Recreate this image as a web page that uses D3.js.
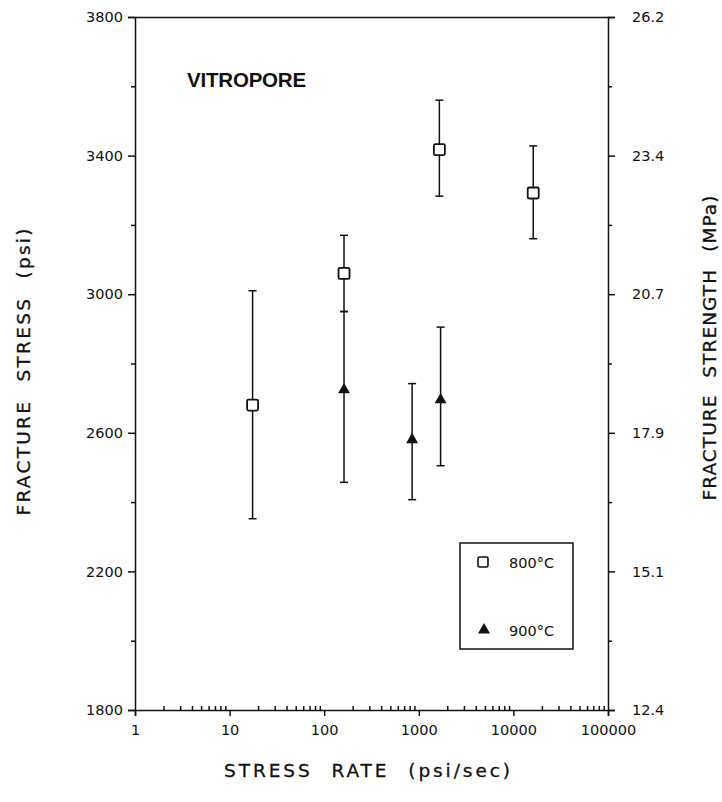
<!DOCTYPE html>
<html>
<head>
<meta charset="utf-8">
<script src="https://cdn.jsdelivr.net/npm/d3@7"></script>
<style>
  html, body { margin: 0; padding: 0; background: #fff; }
  svg { display: block; }
  .tick text { font-family: "DejaVu Sans", sans-serif; font-size: 14.5px; fill: #111; }
  .domain, .tick line { stroke: #111; stroke-width: 1.5px; }
</style>
</head>
<body>
<script>
// ---- data ----
const rates800  = [17.5, 162, 1650, 16200];
const stress800 = [2680, 3060, 3417, 3292];
const lo800     = [2352, 2950, 3283, 3160];
const hi800     = [3010, 3170, 3560, 3428];

const rates900  = [162, 850, 1700];
const stress900 = [2724, 2580, 2695];
const lo900     = [2457, 2407, 2505];
const hi900     = [2950, 2742, 2905];

const xTickValues = [1, 10, 100, 1000, 10000, 100000];
const xTickLabels = ["1", "10", "100", "1000", "10000", "100000"];
const yTickValues = [1800, 2200, 2600, 3000, 3400, 3800];
const yTickLabels = ["1800", "2200", "2600", "3000", "3400", "3800"];
const mpaLabels   = ["12.4", "15.1", "17.9", "20.7", "23.4", "26.2"];
const legendLabels = ["800°C", "900°C"];

const W = 722, H = 802;
const svg = d3.select("body").append("svg").attr("width", W).attr("height", H);

const x = d3.scaleLog().domain([1, 100000]).range([135, 608]);
const y = d3.scaleLinear().domain([1800, 3800]).range([710, 17]);

// minor ticks
const yMinor = d3.range(2000, 3800, 400);
const xMinor = [];
for (let d = 1; d < 100000; d *= 10) for (let k = 2; k <= 9; k++) xMinor.push(d * k);

// left axis
svg.append("g").attr("transform", "translate(135,0)")
  .call(d3.axisLeft(y).tickValues(yTickValues).tickSize(7).tickPadding(5)
    .tickFormat((d, i) => yTickLabels[i]));
svg.append("g").attr("transform", "translate(135,0)")
  .call(d3.axisLeft(y).tickValues(yMinor).tickSize(4).tickFormat(""))
  .select(".domain").remove();

// right axis
svg.append("g").attr("transform", "translate(608,0)")
  .call(d3.axisRight(y).tickValues(yTickValues).tickSize(7).tickPadding(17)
    .tickFormat((d, i) => mpaLabels[i]));
svg.append("g").attr("transform", "translate(608,0)")
  .call(d3.axisRight(y).tickValues(yMinor).tickSize(4).tickFormat(""))
  .select(".domain").remove();

// bottom axis
svg.append("g").attr("transform", "translate(0,710)")
  .call(d3.axisBottom(x).tickValues(xTickValues).tickSize(6).tickPadding(9)
    .tickFormat((d, i) => xTickLabels[i]));
svg.append("g").attr("transform", "translate(0,710)")
  .call(d3.axisBottom(x).tickValues(xMinor).tickSize(-4).tickFormat(""))
  .select(".domain").remove();

// top axis line
svg.append("g").attr("transform", "translate(0,17)")
  .call(d3.axisTop(x).tickValues([]).tickSizeOuter(0));

svg.selectAll(".domain").attr("fill", "none");

// error bars
function errorBars(rates, lo, hi) {
  const g = svg.append("g").attr("stroke", "#111").attr("stroke-width", 1.5);
  rates.forEach((r, i) => {
    const cx = x(r);
    g.append("line").attr("x1", cx).attr("x2", cx).attr("y1", y(lo[i])).attr("y2", y(hi[i]));
    g.append("line").attr("x1", cx - 4).attr("x2", cx + 4).attr("y1", y(lo[i])).attr("y2", y(lo[i]));
    g.append("line").attr("x1", cx - 4).attr("x2", cx + 4).attr("y1", y(hi[i])).attr("y2", y(hi[i]));
  });
}
errorBars(rates800, lo800, hi800);
errorBars(rates900, lo900, hi900);

// markers
const sq = 11;
svg.append("g").selectAll("rect").data(rates800).join("rect")
  .attr("x", (d) => x(d) - sq / 2)
  .attr("y", (d, i) => y(stress800[i]) - sq / 2)
  .attr("width", sq).attr("height", sq).attr("rx", 1.5)
  .attr("fill", "#fff").attr("stroke", "#111").attr("stroke-width", 1.8);

const tri = d3.symbol().type(d3.symbolTriangle).size(62);
svg.append("g").selectAll("path").data(rates900).join("path")
  .attr("d", tri)
  .attr("transform", (d, i) => `translate(${x(d)},${y(stress900[i])})`)
  .attr("fill", "#111");

// title
svg.append("text").attr("x", 187).attr("y", 87)
  .attr("font-family", "Liberation Sans, Arial, sans-serif")
  .attr("font-weight", "bold").attr("font-size", 20.5)
  .attr("letter-spacing", "-0.2px")
  .attr("fill", "#111").text("VITROPORE");

// legend
svg.append("rect").attr("x", 460).attr("y", 543).attr("width", 113).attr("height", 106)
  .attr("fill", "#fff").attr("stroke", "#111").attr("stroke-width", 1.5);
svg.append("rect").attr("x", 483 - 5).attr("y", 562 - 5).attr("width", 10).attr("height", 10)
  .attr("rx", 1.5).attr("fill", "#fff").attr("stroke", "#111").attr("stroke-width", 1.6);
svg.append("path").attr("d", tri).attr("transform", "translate(484,630)").attr("fill", "#111");
svg.append("text").attr("x", 509).attr("y", 568)
  .attr("font-family", "DejaVu Sans, sans-serif").attr("font-size", 14.5)
  .attr("fill", "#111").text(legendLabels[0]);
svg.append("text").attr("x", 509).attr("y", 636)
  .attr("font-family", "DejaVu Sans, sans-serif").attr("font-size", 14.5)
  .attr("fill", "#111").text(legendLabels[1]);

// axis titles
const titleStyle = (t, len) => t
  .attr("font-family", "DejaVu Sans, sans-serif")
  .attr("font-size", 18.5).attr("word-spacing", "10px")
  .attr("textLength", len).attr("lengthAdjust", "spacing")
  .attr("stroke", "#111").attr("stroke-width", 0.3)
  .attr("fill", "#111").attr("text-anchor", "middle");

svg.append("text").attr("x", 367).attr("y", 777).call(titleStyle, 286).text("STRESS RATE (psi/sec)");
svg.append("text").attr("transform", "translate(30,372) rotate(-90)").call(titleStyle, 287)
  .text("FRACTURE STRESS (psi)");
svg.append("text").attr("transform", "translate(716,348) rotate(-90)").call(titleStyle, 305)
  .text("FRACTURE STRENGTH (MPa)");
</script>
</body>
</html>
